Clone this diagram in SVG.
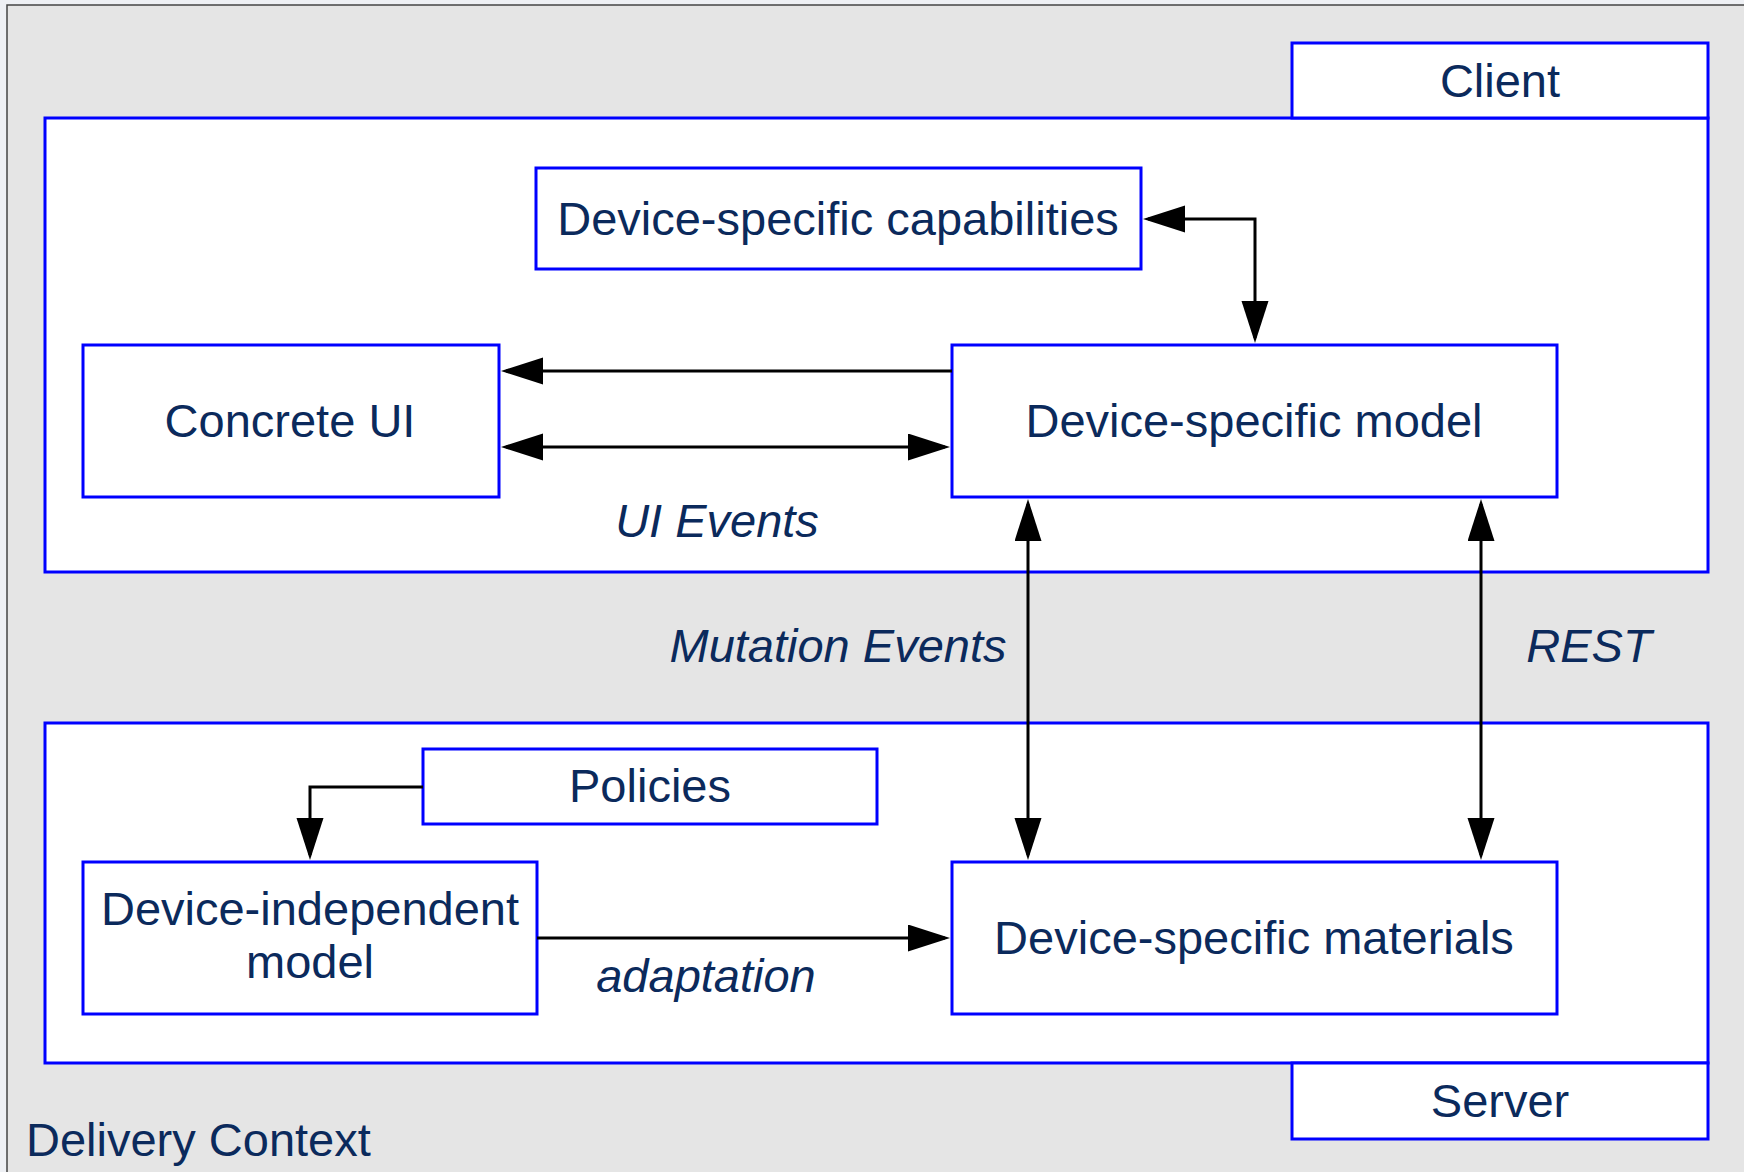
<svg xmlns="http://www.w3.org/2000/svg" width="1744" height="1172" viewBox="0 0 1744 1172">
  <style>
    .box { fill: #ffffff; stroke: #0000ff; stroke-width: 3; }
    .txt { font-family: "Liberation Sans", Arial, sans-serif; font-size: 47px; fill: #0b2a5c; text-anchor: middle; }
    .it { font-style: italic; }
    .conn { fill: none; stroke: #000000; stroke-width: 3; }
  </style>
  <defs>
    <marker id="ah" markerUnits="userSpaceOnUse" markerWidth="42" markerHeight="28" refX="37" refY="13.5" orient="auto-start-reverse">
      <path d="M0,0 L42,13.5 L0,27 z" fill="#000000"/>
    </marker>
  </defs>
  <rect x="0" y="0" width="1744" height="1172" fill="#eef0f4"/>
  <rect x="7" y="5" width="1745" height="1175" fill="#e5e5e5" stroke="#444444" stroke-width="1.5"/>

  <g id="client">
    <rect class="box" x="45" y="118" width="1663" height="454"/>
    <rect class="box" x="1292" y="43" width="416" height="75"/>
    <text class="txt" x="1500" y="97">Client</text>
  </g>
  <g id="server">
    <rect class="box" x="45" y="723" width="1663" height="340"/>
    <rect class="box" x="1292" y="1063" width="416" height="76"/>
    <text class="txt" x="1500" y="1117">Server</text>
  </g>
  <g id="capabilities">
    <rect class="box" x="536" y="168" width="605" height="101"/>
    <text class="txt" x="838" y="235">Device-specific capabilities</text>
  </g>
  <g id="concrete-ui">
    <rect class="box" x="83" y="345" width="416" height="152"/>
    <text class="txt" x="290" y="437">Concrete UI</text>
  </g>
  <g id="ds-model">
    <rect class="box" x="952" y="345" width="605" height="152"/>
    <text class="txt" x="1254" y="437">Device-specific model</text>
  </g>
  <g id="policies">
    <rect class="box" x="423" y="749" width="454" height="75"/>
    <text class="txt" x="650" y="802">Policies</text>
  </g>
  <g id="di-model">
    <rect class="box" x="83" y="862" width="454" height="152"/>
    <text class="txt" x="310" y="925">Device-independent</text>
    <text class="txt" x="310" y="978">model</text>
  </g>
  <g id="ds-materials">
    <rect class="box" x="952" y="862" width="605" height="152"/>
    <text class="txt" x="1254" y="954">Device-specific materials</text>
  </g>

  <g id="connectors">
    <path class="conn" d="M1148,219 H1255 V338" marker-start="url(#ah)" marker-end="url(#ah)"/>
    <path class="conn" d="M952,371 H506" marker-end="url(#ah)"/>
    <path class="conn" d="M506,447 H945" marker-start="url(#ah)" marker-end="url(#ah)"/>
    <path class="conn" d="M1028,504 V855" marker-start="url(#ah)" marker-end="url(#ah)"/>
    <path class="conn" d="M1481,504 V855" marker-start="url(#ah)" marker-end="url(#ah)"/>
    <path class="conn" d="M423,787 H310 V855" marker-end="url(#ah)"/>
    <path class="conn" d="M537,938 H945" marker-end="url(#ah)"/>
    <text class="txt it" x="717" y="537">UI Events</text>
    <text class="txt it" x="838" y="662">Mutation Events</text>
    <text class="txt it" x="1589" y="662">REST</text>
    <text class="txt it" x="706" y="992">adaptation</text>
  </g>

  <text class="txt" x="26" y="1156" style="text-anchor:start">Delivery Context</text>
</svg>
